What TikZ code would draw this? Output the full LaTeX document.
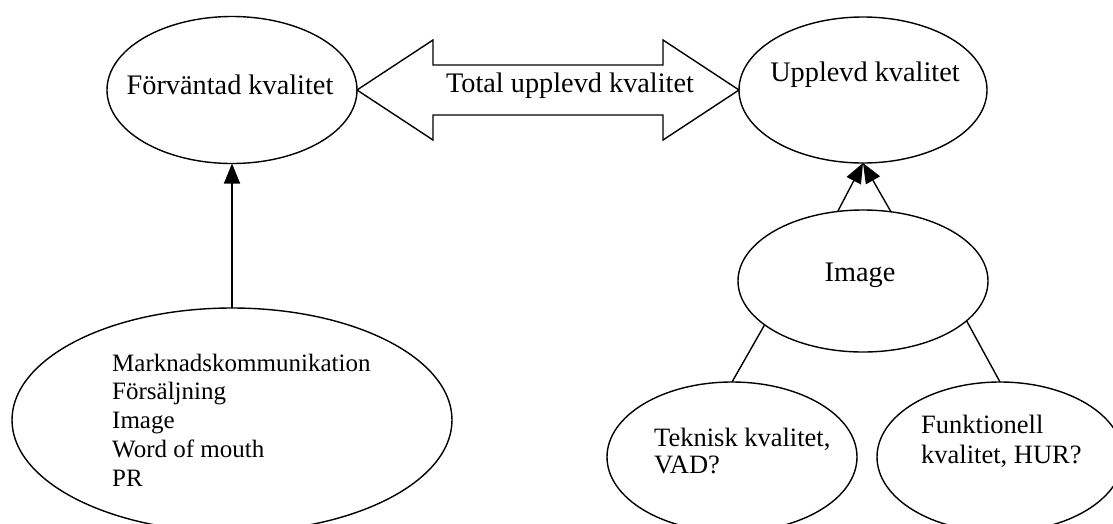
\documentclass[tikz,border=0pt]{standalone}
\usepackage{fontspec}
\setmainfont{Liberation Serif}
\usetikzlibrary{arrows.meta,calc,shapes.geometric}
\begin{document}
\begin{tikzpicture}[x=1pt,y=-1pt,
  oval/.style={draw, ellipse, line width=1.4pt, inner sep=0pt, outer sep=0pt},
  lbl/.style={font=\fontsize{28.3}{33}\selectfont, inner sep=0pt},
  lst/.style={font=\fontsize{25}{28.7}\selectfont, align=left, inner sep=0pt, anchor=west},
  conn/.style={line width=1.4pt},
  arr/.style={conn, -{Triangle[length=20pt,width=16pt]}},
  bigarrow/.style={draw, line width=1.4pt, line join=miter}]
\useasboundingbox (0,0) rectangle (1113,523);
\clip (0,0) rectangle (1113,523);
\fill[white] (0,0) rectangle (1113,523);

\node[oval, minimum width=250pt, minimum height=147pt] (forv) at (232,90) {};
\node[oval, minimum width=248pt, minimum height=146pt] (upp) at (863,90) {};
\node[oval, minimum width=250pt, minimum height=142pt] (img) at (863,281) {};
\node[oval, minimum width=440pt, minimum height=224pt] (mark) at (232,420) {};
\node[oval, minimum width=250pt, minimum height=150pt] (tek) at (732,457) {};
\node[oval, minimum width=246pt, minimum height=150pt] (fun) at (1000,457) {};

\node[lbl] (forvT) at (230,85) {Förväntad kvalitet};
\node[lbl] (uppT) at (865,75) {Upplevd kvalitet};
\node[lbl] (imgT) at (860,275) {Image};
\node[lbl] (totT) at (570,86) {Total upplevd kvalitet};
\node[lst] (markT) at (112,420) {Marknadskommunikation\\Försäljning\\Image\\Word of mouth\\PR};
\node[lst, font=\fontsize{26.5}{27.5}\selectfont] (tekT) at (654,451) {Teknisk kvalitet,\\VAD?};
\node[lst, font=\fontsize{26.5}{30}\selectfont] (funT) at (921,441) {Funktionell\\kvalitet, HUR?};

\draw[bigarrow] (forv.east) -- ($(forv.east)+(76,-50)$) -- ($(forv.east)+(76,-25)$)
  -- ($(upp.west)+(-76,-25)$) -- ($(upp.west)+(-76,-50)$) -- (upp.west)
  -- ($(upp.west)+(-76,50)$) -- ($(upp.west)+(-76,25)$)
  -- ($(forv.east)+(76,25)$) -- ($(forv.east)+(76,50)$) -- cycle;

\draw[arr] (mark.north) -- (forv.south);
\draw[arr] (img.110) -- (upp.south);
\draw[arr] (img.68) -- (upp.south);
\draw[conn] (img.204) -- (tek.north);
\draw[conn] (img.339) -- (fun.north);
\end{tikzpicture}
\end{document}
